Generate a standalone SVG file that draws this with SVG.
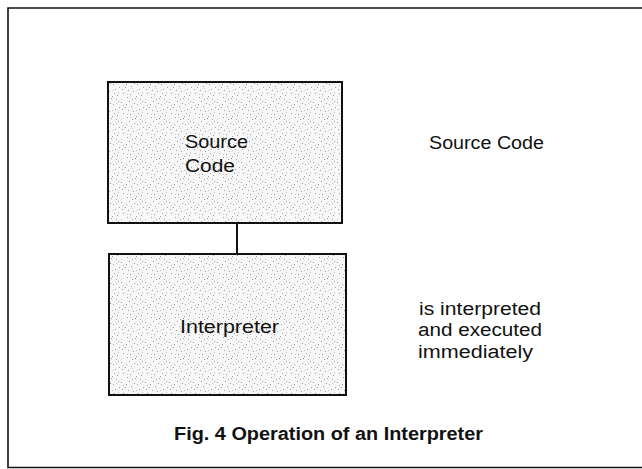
<svg xmlns="http://www.w3.org/2000/svg" width="642" height="469" viewBox="0 0 642 469">
  <defs>
    <pattern id="stipple" width="24" height="20" patternUnits="userSpaceOnUse">
      <rect width="24" height="20" fill="#f7f7f7"/>
      <g fill="#a0a0a0">
        <rect x="1" y="2" width="1" height="1"/><rect x="5" y="7" width="1" height="1"/>
        <rect x="9" y="1" width="1" height="1"/><rect x="13" y="11" width="1" height="1"/>
        <rect x="17" y="4" width="1" height="1"/><rect x="21" y="15" width="1" height="1"/>
        <rect x="3" y="13" width="1" height="1"/><rect x="7" y="17" width="1" height="1"/>
        <rect x="11" y="6" width="1" height="1"/><rect x="15" y="18" width="1" height="1"/>
        <rect x="19" y="9" width="1" height="1"/><rect x="22" y="1" width="1" height="1"/>
        <rect x="2" y="9" width="1" height="1"/><rect x="10" y="14" width="1" height="1"/>
        <rect x="14" y="3" width="1" height="1"/><rect x="18" y="13" width="1" height="1"/>
        <rect x="6" y="4" width="1" height="1"/><rect x="23" y="7" width="1" height="1"/>
        <rect x="8" y="10" width="1" height="1"/><rect x="16" y="16" width="1" height="1"/>
        <rect x="12" y="19" width="1" height="1"/><rect x="20" y="19" width="1" height="1"/>
      </g>
      <g fill="#c8c8c8">
        <rect x="3" y="5" width="1" height="1"/><rect x="12" y="8" width="1" height="1"/>
        <rect x="20" y="3" width="1" height="1"/><rect x="7" y="14" width="1" height="1"/>
        <rect x="16" y="10" width="1" height="1"/><rect x="22" y="12" width="1" height="1"/>
        <rect x="1" y="19" width="1" height="1"/><rect x="10" y="17" width="1" height="1"/>
      </g>
    </pattern>
  </defs>
  <style>
    .frame { fill: none; stroke: #111; stroke-width: 1.6; }
    .box { fill: url(#stipple); stroke: #111; stroke-width: 2; }
    .conn { stroke: #111; stroke-width: 2; fill: none; }
    .t { font-family: "Liberation Sans", Arial, sans-serif; font-size: 18px; fill: #111; }
    .cap { font-family: "Liberation Sans", Arial, sans-serif; font-size: 18px; font-weight: bold; fill: #111; }
  </style>
  <rect width="642" height="469" fill="#fff"/>
  <path class="frame" d="M642,8 L8,8 L8,467.5 L642,467.5"/>

  <g id="connectors">
    <line class="conn" x1="237" y1="223" x2="237" y2="254"/>
  </g>

  <g id="source-code">
    <rect class="box" x="108" y="82" width="234" height="141"/>
    <text class="t" x="185" y="148" textLength="63" lengthAdjust="spacingAndGlyphs">Source</text>
    <text class="t" x="185" y="172" textLength="50" lengthAdjust="spacingAndGlyphs">Code</text>
  </g>

  <g id="interpreter">
    <rect class="box" x="109" y="254" width="237" height="141"/>
    <text class="t" x="180" y="333" textLength="99" lengthAdjust="spacingAndGlyphs">Interpreter</text>
  </g>

  <g id="labels">
    <text class="t" x="429" y="149" textLength="115" lengthAdjust="spacingAndGlyphs">Source Code</text>
    <text class="t" x="419" y="315" textLength="122" lengthAdjust="spacingAndGlyphs">is interpreted</text>
    <text class="t" x="418" y="336" textLength="124" lengthAdjust="spacingAndGlyphs">and executed</text>
    <text class="t" x="418" y="358" textLength="115" lengthAdjust="spacingAndGlyphs">immediately</text>
    <text class="cap" x="174" y="440" textLength="309" lengthAdjust="spacingAndGlyphs">Fig. 4 Operation of an Interpreter</text>
  </g>
</svg>
